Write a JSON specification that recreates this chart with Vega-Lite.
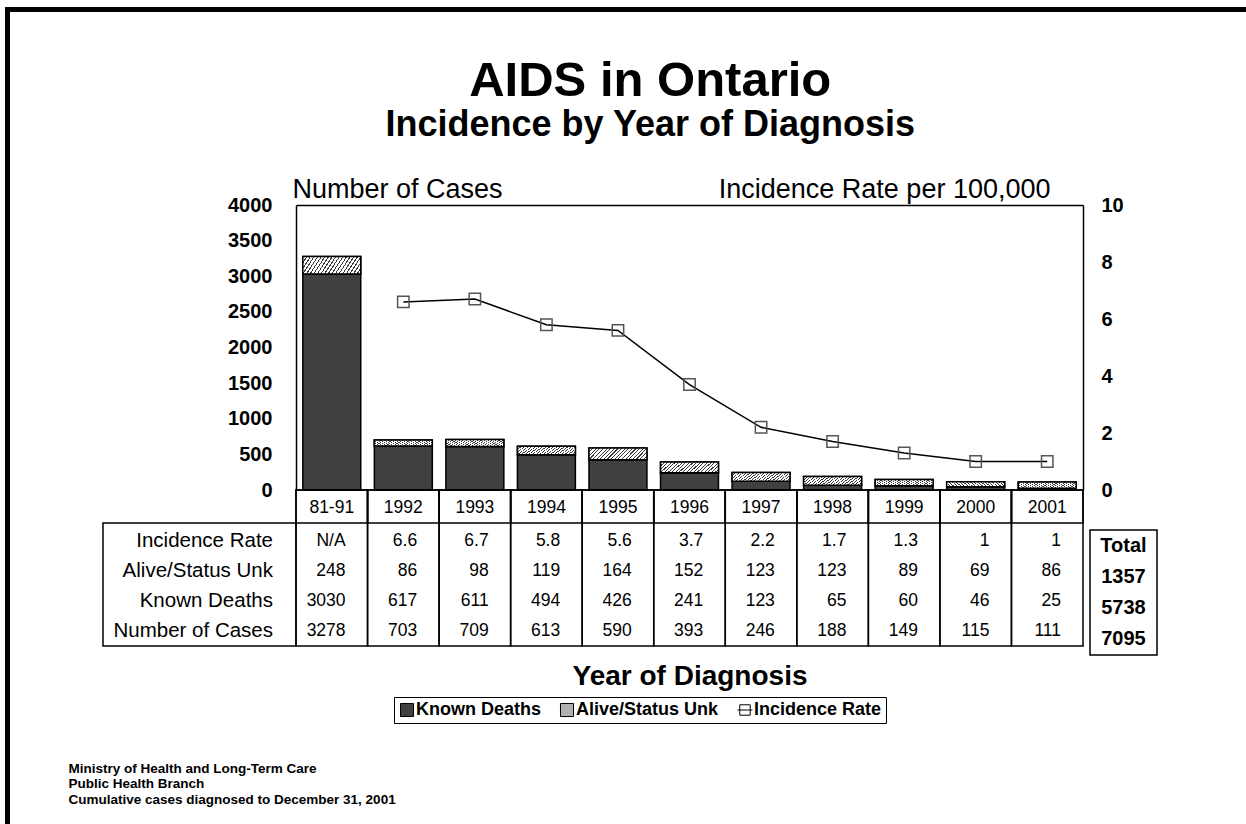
{
  "$schema": "https://vega.github.io/schema/vega-lite/v6.json",
  "autosize": {"type": "none"},
  "padding": {"left": 7.5, "top": 9.5, "right": -5, "bottom": -5},
  "width": 1243.5,
  "height": 819.5,
  "background": "white",
  "title": {
    "text": "AIDS in Ontario",
    "subtitle": "Incidence by Year of Diagnosis",
    "anchor": "middle",
    "frame": "group",
    "font": "Liberation Sans",
    "fontSize": 49,
    "fontWeight": "bold",
    "color": "black",
    "subtitleFont": "Liberation Sans",
    "subtitleFontSize": 36,
    "subtitleFontWeight": "bold",
    "subtitleColor": "black",
    "subtitlePadding": 2,
    "dx": 21,
    "offset": -133
  },
  "datasets": {
    "aids": [
      {"year": "81-91", "rate": null, "Incidence Rate": "N/A", "Alive/Status Unk": 248, "Known Deaths": 3030, "Number of Cases": 3278},
      {"year": "1992", "rate": 6.6, "Incidence Rate": "6.6", "Alive/Status Unk": 86, "Known Deaths": 617, "Number of Cases": 703},
      {"year": "1993", "rate": 6.7, "Incidence Rate": "6.7", "Alive/Status Unk": 98, "Known Deaths": 611, "Number of Cases": 709},
      {"year": "1994", "rate": 5.8, "Incidence Rate": "5.8", "Alive/Status Unk": 119, "Known Deaths": 494, "Number of Cases": 613},
      {"year": "1995", "rate": 5.6, "Incidence Rate": "5.6", "Alive/Status Unk": 164, "Known Deaths": 426, "Number of Cases": 590},
      {"year": "1996", "rate": 3.7, "Incidence Rate": "3.7", "Alive/Status Unk": 152, "Known Deaths": 241, "Number of Cases": 393},
      {"year": "1997", "rate": 2.2, "Incidence Rate": "2.2", "Alive/Status Unk": 123, "Known Deaths": 123, "Number of Cases": 246},
      {"year": "1998", "rate": 1.7, "Incidence Rate": "1.7", "Alive/Status Unk": 123, "Known Deaths": 65, "Number of Cases": 188},
      {"year": "1999", "rate": 1.3, "Incidence Rate": "1.3", "Alive/Status Unk": 89, "Known Deaths": 60, "Number of Cases": 149},
      {"year": "2000", "rate": 1, "Incidence Rate": "1", "Alive/Status Unk": 69, "Known Deaths": 46, "Number of Cases": 115},
      {"year": "2001", "rate": 1, "Incidence Rate": "1", "Alive/Status Unk": 86, "Known Deaths": 25, "Number of Cases": 111}
    ],
    "rowlabels": [
      {"row": "Incidence Rate"},
      {"row": "Alive/Status Unk"},
      {"row": "Known Deaths"},
      {"row": "Number of Cases"}
    ],
    "totals": [
      {"row": "Header", "value": "Total"},
      {"row": "Alive/Status Unk", "value": "1357"},
      {"row": "Known Deaths", "value": "5738"},
      {"row": "Number of Cases", "value": "7095"}
    ]
  },
  "layer": [
    {
      "data": {"name": "aids"},
      "transform": [{"fold": ["Known Deaths", "Alive/Status Unk"], "as": ["status", "count"]}],
      "mark": {"type": "bar", "width": {"band": 0.81}, "stroke": "black", "strokeWidth": 1.5},
      "encoding": {
        "x": {
          "field": "year", "type": "nominal", "sort": null,
          "scale": {"domain": ["81-91","1992","1993","1994","1995","1996","1997","1998","1999","2000","2001"], "range": [288.5, 1075.5], "paddingInner": 0, "paddingOuter": 0},
          "axis": {"orient": "top", "offset": -195.5, "labels": false, "ticks": false, "domain": true, "title": null}
        },
        "y": {
          "field": "count", "type": "quantitative", "stack": "zero",
          "scale": {"domain": [0, 4000], "range": [480.5, 195.5], "nice": false},
          "axis": {
            "orient": "left", "offset": -288.5, "values": [0, 500, 1000, 1500, 2000, 2500, 3000, 3500, 4000], "format": "d",
            "labelFontSize": 20, "labelFontWeight": "bold", "labelPadding": 24,
            "title": "Number of Cases", "titleAngle": 0, "titleAlign": "left", "titleBaseline": "middle",
            "titleX": -4, "titleY": 179.5, "titleFontSize": 27, "titleFontWeight": "normal"
          }
        },
        "fill": {
          "field": "status", "type": "nominal",
          "scale": {"domain": ["Known Deaths", "Alive/Status Unk", "Incidence Rate"], "range": ["#404040", "#b0b0b0", "white"]},
          "legend": {
            "orient": "none", "legendX": 386.5, "legendY": 687.5, "direction": "horizontal",
            "title": null, "strokeColor": "black", "fillColor": "white", "padding": 4,
            "symbolType": "square", "symbolSize": 170, "symbolStrokeColor": "black", "symbolStrokeWidth": 1,
            "labelFontSize": 18, "labelFontWeight": "bold", "labelColor": "black", "labelOffset": 0,
            "columnPadding": 16, "labelLimit": 400,
            "encode": {
              "symbols": {
                "update": {
                  "shape": {"signal": "datum.value === 'Incidence Rate' ? 'M-1.15,0H1.15M-0.8,-0.8H0.8V0.8H-0.8Z' : 'square'"},
                  "stroke": {"value": "black"}
                }
              }
            }
          }
        },
        "order": {"field": "status", "type": "ordinal", "sort": "descending"}
      }
    },
    {
      "data": {"name": "aids"},
      "mark": {
        "type": "bar", "width": {"band": 0.81}, "stroke": "black", "strokeWidth": 1.5,
        "fill": {
          "gradient": "linear", "x1": 0, "y1": 0, "x2": 1.2, "y2": 0.24,
          "stops": [
            {"offset": 0, "color": "#3a3a3a"}, {"offset": 0.016, "color": "#3a3a3a"}, {"offset": 0.016, "color": "white"}, {"offset": 0.05, "color": "white"},
            {"offset": 0.05, "color": "#3a3a3a"}, {"offset": 0.066, "color": "#3a3a3a"}, {"offset": 0.066, "color": "white"}, {"offset": 0.1, "color": "white"},
            {"offset": 0.1, "color": "#3a3a3a"}, {"offset": 0.116, "color": "#3a3a3a"}, {"offset": 0.116, "color": "white"}, {"offset": 0.15, "color": "white"},
            {"offset": 0.15, "color": "#3a3a3a"}, {"offset": 0.166, "color": "#3a3a3a"}, {"offset": 0.166, "color": "white"}, {"offset": 0.2, "color": "white"},
            {"offset": 0.2, "color": "#3a3a3a"}, {"offset": 0.216, "color": "#3a3a3a"}, {"offset": 0.216, "color": "white"}, {"offset": 0.25, "color": "white"},
            {"offset": 0.25, "color": "#3a3a3a"}, {"offset": 0.266, "color": "#3a3a3a"}, {"offset": 0.266, "color": "white"}, {"offset": 0.3, "color": "white"},
            {"offset": 0.3, "color": "#3a3a3a"}, {"offset": 0.316, "color": "#3a3a3a"}, {"offset": 0.316, "color": "white"}, {"offset": 0.35, "color": "white"},
            {"offset": 0.35, "color": "#3a3a3a"}, {"offset": 0.366, "color": "#3a3a3a"}, {"offset": 0.366, "color": "white"}, {"offset": 0.4, "color": "white"},
            {"offset": 0.4, "color": "#3a3a3a"}, {"offset": 0.416, "color": "#3a3a3a"}, {"offset": 0.416, "color": "white"}, {"offset": 0.45, "color": "white"},
            {"offset": 0.45, "color": "#3a3a3a"}, {"offset": 0.466, "color": "#3a3a3a"}, {"offset": 0.466, "color": "white"}, {"offset": 0.5, "color": "white"},
            {"offset": 0.5, "color": "#3a3a3a"}, {"offset": 0.516, "color": "#3a3a3a"}, {"offset": 0.516, "color": "white"}, {"offset": 0.55, "color": "white"},
            {"offset": 0.55, "color": "#3a3a3a"}, {"offset": 0.566, "color": "#3a3a3a"}, {"offset": 0.566, "color": "white"}, {"offset": 0.6, "color": "white"},
            {"offset": 0.6, "color": "#3a3a3a"}, {"offset": 0.616, "color": "#3a3a3a"}, {"offset": 0.616, "color": "white"}, {"offset": 0.65, "color": "white"},
            {"offset": 0.65, "color": "#3a3a3a"}, {"offset": 0.666, "color": "#3a3a3a"}, {"offset": 0.666, "color": "white"}, {"offset": 0.7, "color": "white"},
            {"offset": 0.7, "color": "#3a3a3a"}, {"offset": 0.716, "color": "#3a3a3a"}, {"offset": 0.716, "color": "white"}, {"offset": 0.75, "color": "white"},
            {"offset": 0.75, "color": "#3a3a3a"}, {"offset": 0.766, "color": "#3a3a3a"}, {"offset": 0.766, "color": "white"}, {"offset": 0.8, "color": "white"},
            {"offset": 0.8, "color": "#3a3a3a"}, {"offset": 0.816, "color": "#3a3a3a"}, {"offset": 0.816, "color": "white"}, {"offset": 0.85, "color": "white"},
            {"offset": 0.85, "color": "#3a3a3a"}, {"offset": 0.866, "color": "#3a3a3a"}, {"offset": 0.866, "color": "white"}, {"offset": 0.9, "color": "white"},
            {"offset": 0.9, "color": "#3a3a3a"}, {"offset": 0.916, "color": "#3a3a3a"}, {"offset": 0.916, "color": "white"}, {"offset": 0.95, "color": "white"},
            {"offset": 0.95, "color": "#3a3a3a"}, {"offset": 0.966, "color": "#3a3a3a"}, {"offset": 0.966, "color": "white"}, {"offset": 1, "color": "white"}
          ]
        }
      },
      "encoding": {
        "x": {
          "field": "year", "type": "nominal", "sort": null,
          "scale": {"domain": ["81-91","1992","1993","1994","1995","1996","1997","1998","1999","2000","2001"], "range": [288.5, 1075.5], "paddingInner": 0, "paddingOuter": 0},
          "axis": null
        },
        "y": {
          "field": "Number of Cases", "type": "quantitative",
          "scale": {"domain": [0, 4000], "range": [480.5, 195.5], "nice": false},
          "axis": null
        },
        "y2": {"field": "Known Deaths"}
      }
    },
    {
      "data": {"name": "aids"},
      "mark": {"type": "line", "color": "black", "strokeWidth": 1.5},
      "encoding": {
        "x": {
          "field": "year", "type": "nominal", "sort": null,
          "scale": {"domain": ["81-91","1992","1993","1994","1995","1996","1997","1998","1999","2000","2001"], "range": [288.5, 1075.5], "paddingInner": 0, "paddingOuter": 0},
          "axis": null
        },
        "y": {
          "field": "rate", "type": "quantitative",
          "scale": {"domain": [0, 10], "range": [480.5, 195.5], "nice": false},
          "axis": {
            "orient": "right", "offset": -168, "values": [0, 2, 4, 6, 8, 10],
            "labelFontSize": 20, "labelFontWeight": "bold", "labelPadding": 18,
            "title": "Incidence Rate per 100,000", "titleAngle": 0, "titleAlign": "right", "titleBaseline": "middle",
            "titleX": -33, "titleY": 179.5, "titleFontSize": 27, "titleFontWeight": "normal"
          }
        }
      }
    },
    {
      "data": {"name": "aids"},
      "mark": {"type": "point", "shape": "square", "size": 130, "filled": false, "stroke": "#555555", "strokeWidth": 1.5, "opacity": 1},
      "encoding": {
        "x": {
          "field": "year", "type": "nominal", "sort": null,
          "scale": {"domain": ["81-91","1992","1993","1994","1995","1996","1997","1998","1999","2000","2001"], "range": [288.5, 1075.5], "paddingInner": 0, "paddingOuter": 0},
          "axis": null
        },
        "y": {
          "field": "rate", "type": "quantitative",
          "scale": {"domain": [0, 10], "range": [480.5, 195.5], "nice": false},
          "axis": null
        }
      }
    },
    {
      "data": {"name": "aids"},
      "mark": {"type": "rect", "fill": "white", "fillOpacity": 0, "stroke": "black", "strokeWidth": 1.5},
      "encoding": {
        "x": {
          "field": "year", "type": "nominal", "sort": null,
          "scale": {"domain": ["81-91","1992","1993","1994","1995","1996","1997","1998","1999","2000","2001"], "range": [288.5, 1075.5], "paddingInner": 0, "paddingOuter": 0},
          "axis": null
        },
        "y": {
          "datum": "column", "type": "nominal",
          "scale": {"domain": ["column"], "range": [480.5, 636.5], "paddingInner": 0, "paddingOuter": 0},
          "axis": null
        }
      }
    },
    {
      "data": {"name": "aids"},
      "mark": {"type": "rect", "fill": "white", "fillOpacity": 0, "stroke": "black", "strokeWidth": 1.5},
      "encoding": {
        "x": {
          "field": "year", "type": "nominal", "sort": null,
          "scale": {"domain": ["81-91","1992","1993","1994","1995","1996","1997","1998","1999","2000","2001"], "range": [288.5, 1075.5], "paddingInner": 0, "paddingOuter": 0},
          "axis": null
        },
        "y": {
          "datum": "header", "type": "nominal",
          "scale": {"domain": ["header"], "range": [480.5, 513.5], "paddingInner": 0, "paddingOuter": 0},
          "axis": null
        }
      }
    },
    {
      "data": {"name": "aids"},
      "mark": {"type": "text", "fontSize": 17.5, "color": "black", "dy": 1.5},
      "encoding": {
        "x": {
          "field": "year", "type": "nominal", "sort": null,
          "scale": {"domain": ["81-91","1992","1993","1994","1995","1996","1997","1998","1999","2000","2001"], "range": [288.5, 1075.5], "paddingInner": 0, "paddingOuter": 0},
          "axis": null
        },
        "y": {
          "datum": "header", "type": "nominal",
          "scale": {"domain": ["header"], "range": [480.5, 513.5], "paddingInner": 0, "paddingOuter": 0},
          "axis": null
        },
        "text": {"field": "year", "type": "nominal"}
      }
    },
    {
      "data": {"name": "aids"},
      "transform": [{"fold": ["Incidence Rate", "Alive/Status Unk", "Known Deaths", "Number of Cases"], "as": ["row", "value"]}],
      "mark": {"type": "text", "fontSize": 17.5, "color": "black", "align": "right", "dx": 13.8},
      "encoding": {
        "x": {
          "field": "year", "type": "nominal", "sort": null,
          "scale": {"domain": ["81-91","1992","1993","1994","1995","1996","1997","1998","1999","2000","2001"], "range": [288.5, 1075.5], "paddingInner": 0, "paddingOuter": 0},
          "axis": {
            "orient": "bottom", "offset": -183, "labels": false, "ticks": false, "domain": false,
            "title": "Year of Diagnosis", "titleFontSize": 28, "titleFontWeight": "bold",
            "titleY": 30, "titleBaseline": "middle"
          }
        },
        "y": {
          "field": "row", "type": "nominal",
          "scale": {"domain": ["Incidence Rate", "Alive/Status Unk", "Known Deaths", "Number of Cases"], "range": [516.5, 636.5], "paddingInner": 0, "paddingOuter": 0},
          "axis": null
        },
        "text": {"field": "value", "type": "nominal"}
      }
    },
    {
      "data": {"name": "rowlabels"},
      "transform": [{"aggregate": [{"op": "count", "as": "n"}]}],
      "mark": {"type": "rect", "fill": "white", "fillOpacity": 0, "stroke": "black", "strokeWidth": 1.5},
      "encoding": {
        "x": {
          "datum": "labels", "type": "nominal",
          "scale": {"domain": ["labels"], "range": [95.5, 288.5], "paddingInner": 0, "paddingOuter": 0},
          "axis": null
        },
        "y": {
          "datum": "box", "type": "nominal",
          "scale": {"domain": ["box"], "range": [513.5, 636.5], "paddingInner": 0, "paddingOuter": 0},
          "axis": null
        }
      }
    },
    {
      "data": {"name": "rowlabels"},
      "mark": {"type": "text", "fontSize": 20.5, "color": "black", "align": "right", "dx": 73.5},
      "encoding": {
        "x": {
          "datum": "labels", "type": "nominal",
          "scale": {"domain": ["labels"], "range": [95.5, 288.5], "paddingInner": 0, "paddingOuter": 0},
          "axis": {
            "orient": "bottom", "offset": -183, "labels": false, "ticks": false, "domain": false,
            "title": ["Ministry of Health and Long-Term Care", "Public Health Branch", "Cumulative cases diagnosed  to December 31, 2001"],
            "titleAlign": "left", "titleAnchor": "start", "titleX": 60.5, "titleY": 115, "titleBaseline": "top",
            "titleFontSize": 13.5, "titleFontWeight": "bold", "titleLineHeight": 15.5
          }
        },
        "y": {
          "field": "row", "type": "nominal",
          "scale": {"domain": ["Incidence Rate", "Alive/Status Unk", "Known Deaths", "Number of Cases"], "range": [516.5, 636.5], "paddingInner": 0, "paddingOuter": 0},
          "axis": null
        },
        "text": {"field": "row", "type": "nominal"}
      }
    },
    {
      "data": {"name": "totals"},
      "transform": [{"aggregate": [{"op": "count", "as": "n"}]}],
      "mark": {"type": "rect", "fill": "white", "fillOpacity": 0, "stroke": "black", "strokeWidth": 1.5},
      "encoding": {
        "x": {
          "datum": "Total", "type": "nominal",
          "scale": {"domain": ["Total"], "range": [1082.5, 1149.5], "paddingInner": 0, "paddingOuter": 0},
          "axis": null
        },
        "y": {
          "datum": "box", "type": "nominal",
          "scale": {"domain": ["box"], "range": [520.5, 645.5], "paddingInner": 0, "paddingOuter": 0},
          "axis": null
        }
      }
    },
    {
      "data": {"name": "totals"},
      "mark": {"type": "text", "fontSize": 20, "fontWeight": "bold", "color": "black"},
      "encoding": {
        "x": {
          "datum": "Total", "type": "nominal",
          "scale": {"domain": ["Total"], "range": [1082.5, 1149.5], "paddingInner": 0, "paddingOuter": 0},
          "axis": null
        },
        "y": {
          "field": "row", "type": "nominal",
          "scale": {"domain": ["Header", "Alive/Status Unk", "Known Deaths", "Number of Cases"], "range": [520.5, 645.5], "paddingInner": 0, "paddingOuter": 0},
          "axis": null
        },
        "text": {"field": "value", "type": "nominal"}
      }
    }
  ],
  "resolve": {"scale": {"x": "independent", "y": "independent"}},
  "config": {
    "font": "Liberation Sans",
    "view": {"stroke": "black", "strokeWidth": 5},
    "axis": {"grid": false, "ticks": false, "tickSize": 0, "labelColor": "black", "titleColor": "black", "domainColor": "black", "domainWidth": 1.5}
  }
}
